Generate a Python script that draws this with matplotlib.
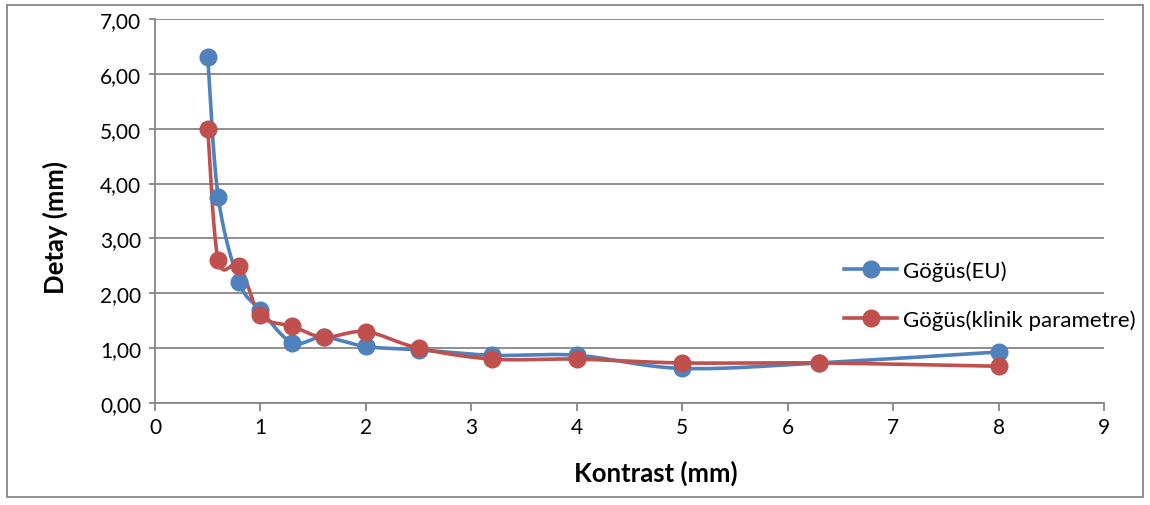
import numpy as np
import matplotlib
matplotlib.use("Agg")
import matplotlib.pyplot as plt
from matplotlib.patches import Rectangle

plt.rcParams['font.family'] = ['Lato', 'DejaVu Sans']

# Data
kontrast = [0.5, 0.6, 0.8, 1.0, 1.3, 1.6, 2.0, 2.5, 3.2, 4.0, 5.0, 6.3, 8.0]
detay_eu = [6.30, 3.75, 2.20, 1.70, 1.10, 1.20, 1.03, 0.97, 0.87, 0.87, 0.63, 0.73, 0.93]
detay_klinik = [5.00, 2.60, 2.50, 1.60, 1.40, 1.20, 1.30, 1.00, 0.80, 0.80, 0.73, 0.73, 0.67]
series_names = ["Göğüs(EU)", "Göğüs(klinik parametre)"]
series_colors = ["#4F81BD", "#C0504D"]
x_ticks = list(range(0, 10))
y_ticks = [0, 1, 2, 3, 4, 5, 6, 7]


def smooth_curve(x, y, n=40):
    """Piecewise cubic Bezier through the points (Catmull-Rom style tangents)."""
    x = np.asarray(x, float)
    y = np.asarray(y, float)
    pts = np.column_stack([x, y])
    out = []
    for i in range(len(pts) - 1):
        p0 = pts[i - 1] if i > 0 else pts[i]
        p1 = pts[i]
        p2 = pts[i + 1]
        p3 = pts[i + 2] if i + 2 < len(pts) else pts[i + 1]
        c1 = p1 + (p2 - p0) / 6.0
        c2 = p2 - (p3 - p1) / 6.0
        t = np.linspace(0, 1, n)[:, None]
        seg = ((1 - t) ** 3) * p1 + 3 * ((1 - t) ** 2) * t * c1 + 3 * (1 - t) * t ** 2 * c2 + t ** 3 * p2
        out.append(seg if i == 0 else seg[1:])
    seg = np.vstack(out)
    return seg[:, 0], seg[:, 1]


fig = plt.figure(figsize=(11.5, 5.06), dpi=100)
ax = fig.add_axes([155 / 1150, 1 - 404 / 506, (1104 - 155) / 1150, (404 - 20) / 506])

for yv, name, col in zip([detay_eu, detay_klinik], series_names, series_colors):
    sx, sy = smooth_curve(kontrast, yv)
    ax.plot(sx, sy, color=col, lw=2.6, solid_capstyle='round', zorder=3)
    ax.plot(kontrast, yv, 'o', color=col, ms=12, zorder=4)
    ax.plot([], [], '-o', color=col, lw=2.6, ms=12, label=name)

ax.set_xlim(0, 9)
ax.set_ylim(0, 7)
ax.set_xticks(x_ticks)
ax.set_yticks(y_ticks)
ax.set_yticklabels([f"{v:.2f}".replace('.', ',') for v in y_ticks])
ax.yaxis.grid(True, color='#868686', lw=1.3)
ax.set_axisbelow(True)

for side in ['top', 'right']:
    ax.spines[side].set_visible(False)
for side in ['left', 'bottom']:
    ax.spines[side].set_color('#868686')
    ax.spines[side].set_linewidth(1.3)
ax.tick_params(axis='both', colors='#868686', labelcolor='black', labelsize=15, width=1.3)
ax.tick_params(axis='x', length=6, pad=4)
ax.tick_params(axis='y', length=4, pad=6)

ax.set_xlabel("Kontrast (mm)", fontsize=18.5, fontweight='bold', va='center')
ax.xaxis.set_label_coords((656 - 155) / (1104 - 155), (404 - 473) / (404 - 20))
ax.set_ylabel("Detay (mm)", fontsize=18.5, fontweight='bold', va='center')
ax.yaxis.set_label_coords((55 - 155) / (1104 - 155), (404 - 228) / (404 - 20))

leg = fig.legend(loc='center left', bbox_to_anchor=(824 / 1150, 1 - 296 / 506),
                 frameon=False, fontsize=16, handlelength=2.4, handletextpad=0.25,
                 labelspacing=1.3)

fig.patches.append(Rectangle((7 / 1150, 1 - 498 / 506), (1143 - 7) / 1150, (498 - 6) / 506,
                             transform=fig.transFigure, fill=False, edgecolor='#868686', lw=1.3))

fig.savefig("out.png", dpi=100)
